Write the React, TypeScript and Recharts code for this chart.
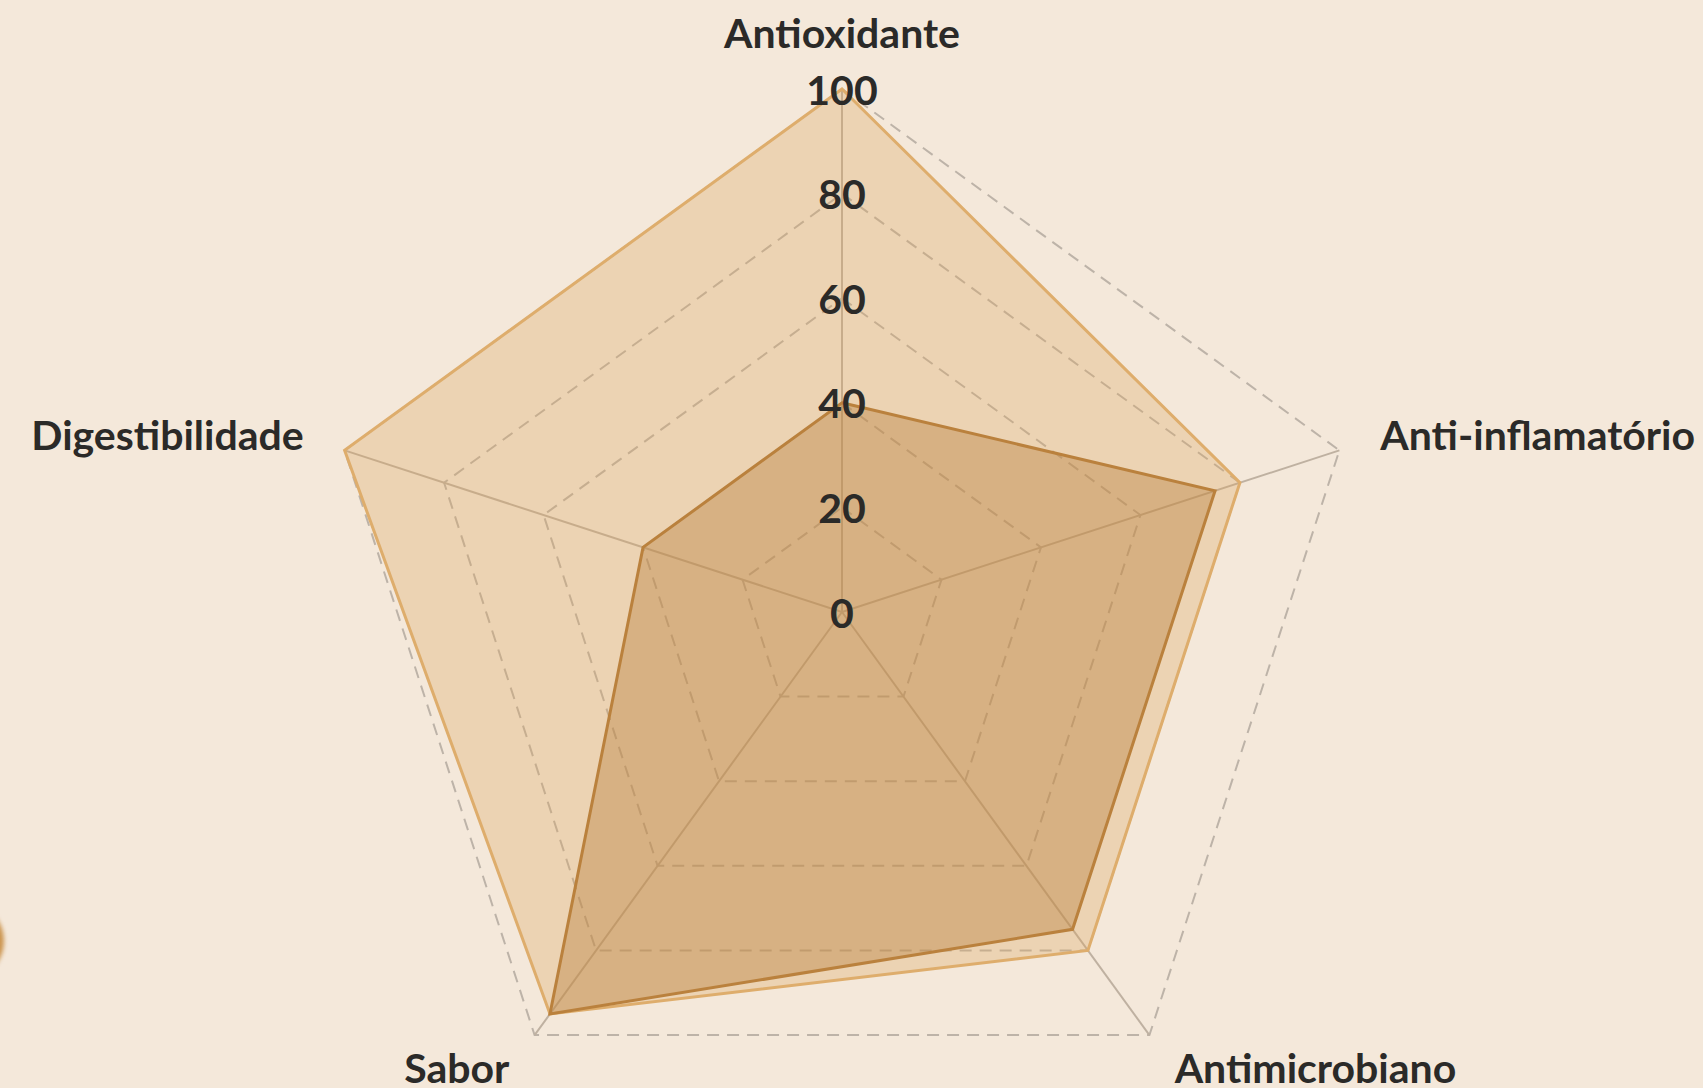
import React from 'react';
import { RadarChart, Radar, PolarGrid, PolarAngleAxis, PolarRadiusAxis } from 'recharts';

const categories = ['Antioxidante', 'Anti-inflamatório', 'Antimicrobiano', 'Sabor', 'Digestibilidade'];
const seriesA = [100, 80, 80, 95, 100];
const seriesB = [40, 75, 75, 95, 40];
const radiusTicks = [0, 20, 40, 60, 80, 100];

const CX = 842;
const CY = 612;
const R = 523;
const FONT = 'Lato, "Noto Sans", sans-serif';

const data = categories.map((name, i) => ({ name, a: seriesA[i], b: seriesB[i] }));

function AngleTick(props: any) {
    const { x, y, payload, textAnchor } = props;
    const dx = x - CX;
    const dy = y - CY;
    const len = Math.sqrt(dx * dx + dy * dy) || 1;
    const ux = dx / len;
    const uy = dy / len;
    const off = 35;
    const base = uy < -0.9 ? 2 : 13;
    return (
        <text
            x={x + ux * off}
            y={y + uy * off + base}
            textAnchor={textAnchor}
            fill="#2B2A28"
            fontSize={41}
            fontWeight={700}
            fontFamily={FONT}
        >
            {payload.value}
        </text>
    );
}

function RadiusTick(props: any) {
    const { x, y, payload } = props;
    return (
        <text
            x={x}
            y={y}
            textAnchor="middle"
            dominantBaseline="central"
            fill="#2B2A28"
            fontSize={41}
            fontWeight={700}
            fontFamily={FONT}
        >
            {payload.value}
        </text>
    );
}

export default function App() {
    return (
        <div style={{ position: 'fixed', left: 0, top: 0, width: 1703, height: 1088, background: '#F4E8DA', overflow: 'hidden' }}>
            <div
                style={{
                    position: 'absolute', left: -74, top: 902, width: 78, height: 78, borderRadius: '50%',
                    background: '#CB944E', filter: 'blur(2px)',
                }}
            />
            <RadarChart
                width={1703}
                height={1088}
                data={data}
                cx={CX}
                cy={CY}
                outerRadius={R}
                margin={{ top: 0, right: 0, bottom: 0, left: 0 }}
            >
                <PolarGrid
                    gridType="polygon"
                    radialLines={false}
                    stroke="#BDB3A8"
                    strokeWidth={2}
                    strokeDasharray="12 8"
                />
                <PolarGrid gridType="polygon" polarRadius={[0]} stroke="#BFB1A1" strokeWidth={2} />
                <PolarAngleAxis dataKey="name" tick={<AngleTick />} tickLine={false} axisLine={false} />
                <Radar
                    dataKey="a"
                    stroke="#DEAD6C"
                    strokeWidth={3}
                    fill="#D9A35A"
                    fillOpacity={0.3}
                    dot={false}
                    isAnimationActive={false}
                />
                <Radar
                    dataKey="b"
                    stroke="#BA813D"
                    strokeWidth={3}
                    fill="#B9803D"
                    fillOpacity={0.4}
                    dot={false}
                    isAnimationActive={false}
                />
                <PolarRadiusAxis
                    angle={90}
                    domain={[0, 100]}
                    ticks={radiusTicks as any}
                    tickCount={6}
                    axisLine={false}
                    tick={<RadiusTick />}
                />
            </RadarChart>
        </div>
    );
}
